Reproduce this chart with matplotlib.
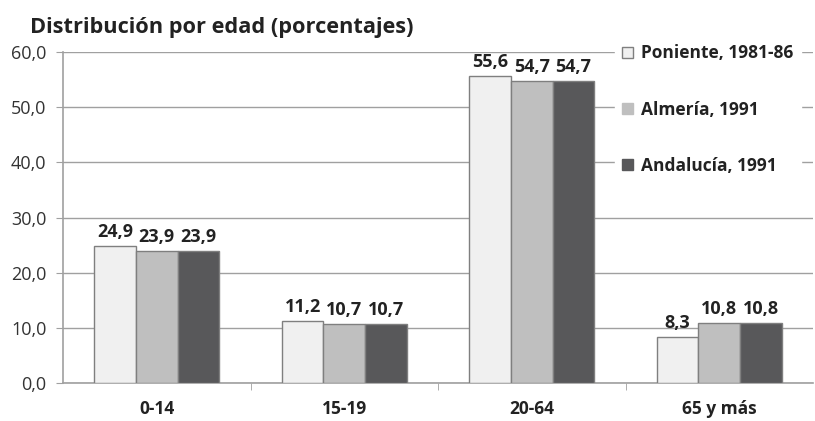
import numpy as np
import matplotlib
matplotlib.use('Agg')
import matplotlib.pyplot as plt

plt.rcParams['font.family'] = ['Open Sans', 'DejaVu Sans']

grupos = ['0-14', '15-19', '20-64', '65 y más']
series = ['Poniente, 1981-86', 'Almería, 1991', 'Andalucía, 1991']
poniente = [24.9, 11.2, 55.6, 8.3]
almeria = [23.9, 10.7, 54.7, 10.8]
andalucia = [23.9, 10.7, 54.7, 10.8]
colores = ['#f0f0f0', '#bfbfbf', '#58585a']

fig = plt.figure(figsize=(8.15, 4.21), dpi=100)
ax = fig.add_axes([63/815, 38/421, 750/815, 331/421])

x = np.arange(len(grupos))
w = 0.222
valores = [poniente, almeria, andalucia]
for i, (v, c, nom) in enumerate(zip(valores, colores, series)):
    barras = ax.bar(x + (i - 1) * w, v, w, color=c, edgecolor='#7f7f7f',
                    linewidth=1.0, label=nom, zorder=3)
    for b, val in zip(barras, v):
        ax.text(b.get_x() + b.get_width() / 2, val + 0.9,
                ('%.1f' % val).replace('.', ','), ha='center', va='bottom',
                fontsize=13, fontweight='bold', color='#222222')

ax.set_xlim(-0.5, 3.5)
ax.set_ylim(0, 60)
ax.set_yticks(np.arange(0, 61, 10))
ax.set_yticklabels([('%.1f' % t).replace('.', ',') for t in np.arange(0, 61, 10)],
                   fontsize=13, color='#333333')
ax.yaxis.grid(True, color='#a0a0a0', linewidth=1.0, zorder=0)
ax.set_xticks(x)
ax.set_xticklabels(grupos, fontsize=12.5, fontweight='bold', color='#222222')
ax.tick_params(axis='x', length=0, pad=12)
ax.tick_params(axis='y', length=5, color='#a0a0a0', pad=7)
ax.set_xticks([0.5, 1.5, 2.5], minor=True)
ax.tick_params(axis='x', which='minor', length=5, color='#a0a0a0')
for s in ['top', 'right']:
    ax.spines[s].set_visible(False)
ax.spines['left'].set_color('#a0a0a0')
ax.spines['bottom'].set_color('#a0a0a0')
ax.spines['left'].set_linewidth(1.2)
ax.spines['bottom'].set_linewidth(1.2)

leg = ax.legend(loc='upper left', bbox_to_anchor=(0.725, 1.07), frameon=True,
                fontsize=12.5, handlelength=0.6, handleheight=0.6,
                labelspacing=2.2, handletextpad=0.5, borderpad=0.4)
leg.get_frame().set_edgecolor('white')
leg.get_frame().set_facecolor('white')
leg.get_frame().set_alpha(1)
for t in leg.get_texts():
    t.set_fontweight('bold')
    t.set_color('#222222')
for h, c in zip(leg.legend_handles, colores):
    h.set_edgecolor('#7f7f7f' if c == '#f0f0f0' else c)
leg.set_zorder(5)

fig.text(30/815, 1 - 33/421, 'Distribución por edad (porcentajes)', fontsize=15.7,
         fontweight='bold', color='#222222', va='baseline')

fig.savefig('out.png', dpi=100)
